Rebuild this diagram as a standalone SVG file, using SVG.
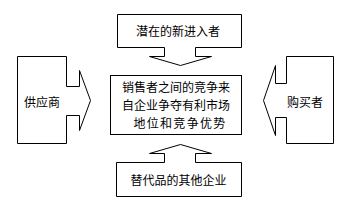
<svg xmlns="http://www.w3.org/2000/svg" width="364" height="213" viewBox="0 0 364 213">
<style>
.s{fill:none;stroke:#000;stroke-width:1}
.t{font-family:"Noto Sans CJK SC","Noto Sans CJK JP",sans-serif;font-size:12px;fill:#000;text-anchor:middle}
</style>
<rect width="364" height="213" fill="#fff"/>
<g id="entrants">
<path class="s" d="M164.5,47.5 H117.5 V14.5 H241.5 V47.5 H195.5"/>
<text class="t" x="178" y="36">潜在的新进入者</text>
</g>
<g id="rivalry">
<rect class="s" x="110.5" y="75.5" width="131" height="59"/>
<text class="t" x="176" y="92">销售者之间的竞争来</text>
<text class="t" x="176" y="110">自企业争夺有利市场</text>
<text class="t" x="180" y="128" letter-spacing="1.3">地位和竞争优势</text>
</g>
<g id="suppliers">
<path class="s" d="M66.5,86.5 V56.5 H17.5 V143.5 H66.5 V115.5"/>
<text class="t" x="42" y="107">供应商</text>
</g>
<g id="buyers">
<path class="s" d="M286.5,83.5 V56.5 H333.5 V143.5 H286.5 V117.5"/>
<text class="t" x="305" y="107">购买者</text>
</g>
<g id="substitutes">
<path class="s" d="M164.5,162.5 H116.5 V196.5 H241.5 V162.5 H195.5"/>
<text class="t" x="178.5" y="185">替代品的其他企业</text>
</g>
<g id="connectors">
<path class="s" d="M164.5,47.5 V56.5 H149.5 L180.5,65.5 L211.5,56.5 H195.5 V47.5"/>
<path class="s" d="M66.5,86.5 H79.5 V70.5 L90.5,100.5 L79.5,130.5 V115.5 H66.5"/>
<path class="s" d="M286.5,83.5 H275.5 V65.5 L263.5,100.5 L275.5,135.5 V117.5 H286.5"/>
<path class="s" d="M164.5,162.5 V153.5 H149.5 L180.5,144.5 L211.5,153.5 H195.5 V162.5"/>
</g>
</svg>
